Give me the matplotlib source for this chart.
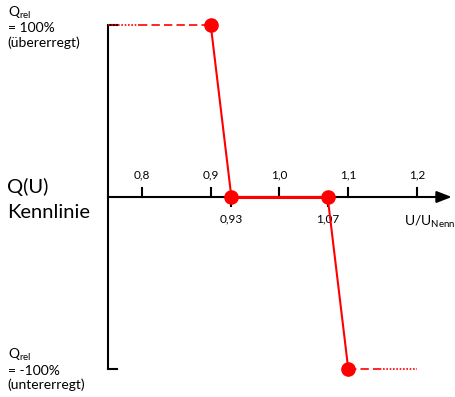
import matplotlib
matplotlib.use("Agg")
import matplotlib.pyplot as plt

plt.rcParams['font.family'] = ['Lato', 'DejaVu Sans']
plt.rcParams['mathtext.fontset'] = 'custom'
plt.rcParams['mathtext.rm'] = 'Lato'
plt.rcParams['mathtext.it'] = 'Lato'

# data
curve_u = [0.90, 0.93, 1.07, 1.10]
curve_q = [100, 0, 0, -100]
tick_vals = [0.8, 0.9, 1.0, 1.1, 1.2]
tick_labels = ["0,8", "0,9", "1,0", "1,1", "1,2"]
knee_vals = [0.93, 1.07]
knee_labels = ["0,93", "1,07"]
ext_top_u = [0.75, 0.795, 0.90]
ext_bot_u = [1.10, 1.15, 1.20]

RED = "#FF0000"

fig = plt.figure(figsize=(4.56, 3.97), dpi=100)
ax = fig.add_axes([0, 0, 1, 1])
ax.set_xlim(0.5935, 1.2567)
ax.set_ylim(-116.28, 114.53)
ax.axis('off')

# axes lines
ax.plot([0.75, 0.75], [-100, 100], color='black', lw=1.5, solid_capstyle='butt', zorder=2)
ax.plot([0.75, 0.763], [100, 100], color='black', lw=1.5, zorder=2)
ax.plot([0.75, 0.763], [-100, -100], color='black', lw=1.5, zorder=2)
ax.plot([0.75, 1.235], [0, 0], color='black', lw=1.5, zorder=2)
ax.annotate("", xy=(1.2505, 0), xytext=(1.232, 0),
            arrowprops=dict(arrowstyle='-|>,head_length=0.9,head_width=0.35',
                            color='black', lw=1.5, shrinkA=0, shrinkB=0), zorder=2)

# ticks
for v, lab in zip(tick_vals, tick_labels):
    ax.plot([v, v], [0, 5], color='black', lw=1.5, zorder=2)
    ax.text(v, 12.8, lab, ha='center', va='center', fontsize=8.5)
for v, lab in zip(knee_vals, knee_labels):
    ax.plot([v, v], [0, -5], color='black', lw=1.5, zorder=2)
    ax.text(v, -12.8, lab, ha='center', va='center', fontsize=8.5)

# curve
ax.plot(curve_u, curve_q, color=RED, lw=1.5, zorder=3)
ax.plot(curve_u[1:3], curve_q[1:3], color=RED, lw=2.2, zorder=3)
ax.plot(curve_u, curve_q, 'o', color=RED, ms=9.5, zorder=4)

# extensions
ax.plot(ext_top_u[:2], [100, 100], color=RED, lw=1.2, linestyle=(0, (1, 1)), zorder=3)
ax.plot(ext_top_u[1:], [100, 100], color=RED, lw=1.2, linestyle=(0, (5, 2.5)), zorder=3)
ax.plot(ext_bot_u[:2], [-100, -100], color=RED, lw=1.2, linestyle=(0, (5, 2.5)), zorder=3)
ax.plot(ext_bot_u[1:], [-100, -100], color=RED, lw=1.2, linestyle=(0, (1, 1)), zorder=3)

# labels
ax.text(1.2553, -14.5, r"U/U$_{\mathrm{Nenn}}$", ha='right', va='center', fontsize=10)
ax.text(0.6035, -1.5, "Q(U)\nKennlinie", ha='left', va='center', fontsize=14.5, linespacing=1.6)
ax.text(0.6045, 99, "Q$_{\\mathrm{rel}}$\n= 100%\n(übererregt)", ha='left', va='center',
        fontsize=10, linespacing=1.17)
ax.text(0.6045, -100, "Q$_{\\mathrm{rel}}$\n= -100%\n(untererregt)", ha='left', va='center',
        fontsize=10, linespacing=1.17)

fig.savefig("out.png", dpi=100)
